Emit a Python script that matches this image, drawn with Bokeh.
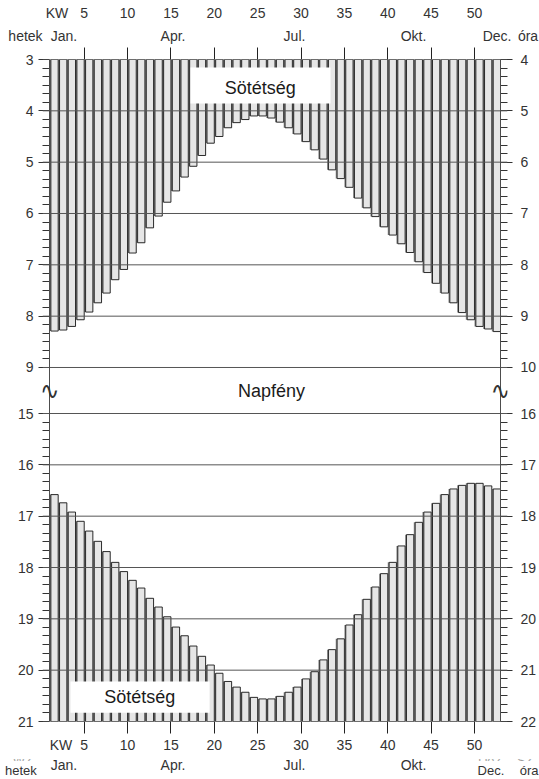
from bokeh.plotting import figure
from bokeh.layouts import column
from bokeh.core.properties import value
from bokeh.models import (Range1d, LinearAxis, FixedTicker, Span, BoxAnnotation,
                          Label, ColumnDataSource)
from bokeh.transform import dodge
from bokeh.embed import file_html
from bokeh.resources import INLINE

# ---------------- data ----------------
weeks = list(range(1, 53))
sunrise = [8.29, 8.27, 8.20, 8.07, 7.92, 7.74, 7.55, 7.29, 7.09, 6.77,
           6.57, 6.28, 6.05, 5.78, 5.56, 5.29, 5.08, 4.87, 4.63, 4.50,
           4.33, 4.23, 4.17, 4.10, 4.10, 4.14, 4.22, 4.33, 4.45, 4.60,
           4.76, 4.94, 5.15, 5.32, 5.49, 5.70, 5.89, 6.06, 6.26, 6.42,
           6.59, 6.76, 6.94, 7.15, 7.36, 7.55, 7.74, 7.93, 8.07, 8.20,
           8.25, 8.30]
sunset = [16.58, 16.74, 16.92, 17.10, 17.29, 17.49, 17.69, 17.90, 18.08, 18.25,
          18.40, 18.60, 18.77, 18.96, 19.16, 19.33, 19.53, 19.73, 19.90, 20.06,
          20.22, 20.33, 20.43, 20.53, 20.56, 20.56, 20.51, 20.43, 20.33, 20.17,
          20.03, 19.80, 19.60, 19.39, 19.12, 18.92, 18.62, 18.38, 18.12, 17.90,
          17.58, 17.36, 17.12, 16.92, 16.75, 16.58, 16.47, 16.40, 16.36, 16.36,
          16.41, 16.47]
week_ticks = [5, 10, 15, 20, 25, 30, 35, 40, 45, 50]
top_hours = [3, 4, 5, 6, 7, 8, 9]
bot_hours = [15, 16, 17, 18, 19, 20, 21]
month_names = ["Jan.", "Apr.", "Jul.", "Okt."]
month_pos = [2.66, 15.24, 29.25, 42.97]
kw_top, kw_bot = 1.86, 2.33
hetek_top, hetek_bot = -1.77, -2.3
ora_top, ora_bot = 56.17, 56.3
dec_top, dec_bot = 52.6, 51.9
# partly hidden original (German) labels under the translated ones
frag_text = ["WZ", "Dez", "SZ"]
frag_pos = [-2.06, 51.73, 55.83]

# ---------------- layout ----------------
W = 539
PL, PR = 49, 500            # canvas x of the left / right hour axes
WS = (PR - PL) / 52         # px per week
TIN = 7                     # inward tick length (frame edge -> axis line)
HH, HF = 44, 45             # header / footer heights
MT, MB = 15, 13
HFR = 662                   # main frame height
MH = MT + HFR + MB
GAP = 46 / 51.33
U = 12 + GAP
FONT = "Liberation Sans"
TXT = "#333333"
GRID = "#555555"


def bare(fig):
    fig.outline_line_color = None
    fig.title.visible = False
    for g in fig.grid:
        g.visible = False


def lab_axis(ax, size="14px", standoff=0):
    ax.axis_line_color = None
    ax.major_tick_in = 0
    ax.major_tick_out = 0
    ax.major_tick_line_color = None
    ax.minor_tick_line_color = None
    ax.major_label_text_font = FONT
    ax.major_label_text_font_size = size
    ax.major_label_text_color = TXT
    ax.major_label_standoff = standoff


# ---------------- main chart ----------------
p = figure(width=W, height=MH, x_range=Range1d(1 - TIN / WS, 53 + TIN / WS),
           y_range=Range1d(3 + U, 3), x_axis_location=None, y_axis_location=None,
           output_backend="svg", toolbar_location=None, frame_align=False,
           min_border_left=PL - TIN, min_border_right=W - PR - TIN,
           min_border_top=MT, min_border_bottom=MB)
p.extra_y_ranges = {"bot": Range1d(21, 21 - U)}
bare(p)

src = ColumnDataSource(dict(week=weeks, rise=sunrise, set=sunset))
p.vbar(x=dodge("week", 0.5, range=p.x_range), width=1.0, top=3, bottom="rise",
       fill_color="#8c8c8c", line_color=None, source=src)
p.vbar(x=dodge("week", 0.58, range=p.x_range), width=0.84, top=3, bottom="rise",
       fill_color="#e6e6e6", line_color="#1a1a1a", line_width=0.9, source=src)
p.vbar(x=dodge("week", 0.5, range=p.x_range), width=1.0, top="set", bottom=21,
       fill_color="#8c8c8c", line_color=None, source=src, y_range_name="bot")
p.vbar(x=dodge("week", 0.58, range=p.x_range), width=0.84, top="set", bottom=21,
       fill_color="#e6e6e6", line_color="#1a1a1a", line_width=0.9, source=src,
       y_range_name="bot")

for h in top_hours:
    p.add_layout(Span(location=h, dimension="width", line_color=GRID, line_width=1))
for h in bot_hours:
    p.add_layout(Span(location=h, dimension="width", line_color=GRID, line_width=1,
                      y_range_name="bot"))
for wx in (weeks[0], weeks[-1] + 1):
    p.add_layout(Span(location=wx, dimension="height", line_color="#4d4d4d", line_width=1))


def b2t(h):
    return (h - 18) + U


yticks = list(top_hours) + [b2t(h) for h in bot_hours]
yminor = [h + k / 6 for h in top_hours[:-1] for k in range(1, 6)] + \
         [b2t(h + k / 6) for h in bot_hours[:-1] for k in range(1, 6)]
ovL = {b2t(h): str(h) for h in bot_hours}
ovR = {h: str(h + 1) for h in top_hours}
ovR.update({b2t(h): str(h + 1) for h in bot_hours})


def style_y(ax, out, standoff):
    ax.axis_line_color = None
    ax.major_tick_in = TIN
    ax.major_tick_out = out
    ax.minor_tick_in = TIN
    ax.minor_tick_out = 0
    ax.major_tick_line_color = "#333333"
    ax.minor_tick_line_color = "#333333"
    ax.major_label_text_font = FONT
    ax.major_label_text_font_size = "14px"
    ax.major_label_text_color = TXT
    ax.major_label_standoff = standoff


axL = LinearAxis(ticker=FixedTicker(ticks=yticks, minor_ticks=yminor), major_label_overrides=ovL)
style_y(axL, 4, 5)
p.add_layout(axL, "left")
axR = LinearAxis(ticker=FixedTicker(ticks=yticks, minor_ticks=yminor), major_label_overrides=ovR)
style_y(axR, 5, 8)
p.add_layout(axR, "right")

for side in ("above", "below"):
    ax = LinearAxis(ticker=FixedTicker(ticks=week_ticks, minor_ticks=[]),
                    major_label_overrides={t: "" for t in week_ticks})
    ax.axis_line_color = None
    ax.major_tick_in = 0
    ax.major_tick_out = 12
    ax.major_tick_line_color = "#222222"
    ax.minor_tick_line_color = None
    ax.major_label_text_font_size = "1px"
    ax.major_label_standoff = 0
    p.add_layout(ax, side)

p.add_layout(BoxAnnotation(left=17.26, right=33.4, top=3.156, bottom=3.857,
                           fill_color="white", fill_alpha=1, line_color=None))
p.add_layout(BoxAnnotation(left=3.42, right=19.46, top=20.22, bottom=20.83,
                           fill_color="white", fill_alpha=1, line_color=None,
                           y_range_name="bot"))


def lab(text, x, y, size="18px", rng="default", font=FONT, color="#1a1a1a"):
    p.add_layout(Label(x=x, y=y, text=text, text_align="center", text_baseline="middle",
                       text_font=font, text_font_size=size, text_color=color,
                       y_range_name=rng))


lab("Sötétség", 25.3, 3.55)
lab("Sötétség", 11.4, 20.52, rng="bot")
lab("Napfény", 26.6, 9 + GAP / 2)
lab("\u223f", weeks[0], 9 + GAP / 2, size="24px", font="DejaVu Sans", color="#333333")
lab("\u223f", weeks[-1] + 1, 9 + GAP / 2, size="24px", font="DejaVu Sans", color="#333333")

# ---------------- header / footer (week numbers, months, units) ----------------
outer = Range1d(1 - PL / WS, 1 + (W - PL) / WS)


def strip(height, top=0):
    f = figure(width=W, height=height, x_range=outer, y_range=Range1d(0, 1),
               x_axis_location=None, y_axis_location=None,
               output_backend="svg", toolbar_location=None, frame_align=False,
               min_border_left=0, min_border_right=0, min_border_top=top,
               min_border_bottom=0)
    bare(f)
    return f


hdr = strip(HH)
a = LinearAxis(ticker=FixedTicker(ticks=[kw_top] + week_ticks, minor_ticks=[]),
               major_label_overrides={kw_top: "KW"})
lab_axis(a, standoff=4)
hdr.add_layout(a, "below")
top_row = [hetek_top] + month_pos + [dec_top, ora_top]
a = LinearAxis(ticker=FixedTicker(ticks=top_row, minor_ticks=[]),
               major_label_overrides=dict(zip(top_row, ["hetek"] + month_names + ["Dec.", "óra"])))
lab_axis(a, standoff=4)
hdr.add_layout(a, "below")

ftr = strip(HF, top=3)
# months row (adjacent above the thin frame), then week numbers further up
a = LinearAxis(ticker=FixedTicker(ticks=month_pos, minor_ticks=[]),
               major_label_overrides=dict(zip(month_pos, month_names)))
lab_axis(a, standoff=-13)
ftr.add_layout(a, "above")
a = LinearAxis(ticker=FixedTicker(ticks=[kw_bot] + week_ticks, minor_ticks=[]),
               major_label_overrides={kw_bot: "KW"})
lab_axis(a, standoff=1)
ftr.add_layout(a, "above")
# unit row below the thin frame
a = LinearAxis(ticker=FixedTicker(ticks=[hetek_bot, dec_bot, ora_bot], minor_ticks=[]),
               major_label_overrides={hetek_bot: "hetek", dec_bot: "Dec.", ora_bot: "óra"})
lab_axis(a, size="13px", standoff=2)
ftr.add_layout(a, "below")
# the thin frame only shows the tops of the covered original labels
fsrc = ColumnDataSource(dict(x=frag_pos, t=frag_text))
ftr.text(x="x", y=0.1, text="t", source=fsrc, text_align="center", text_baseline="middle",
         text_font=value(FONT), text_font_size="13px", text_color="#444444")

layout = column(hdr, p, ftr)
open("out.html", "w").write(file_html(layout, INLINE))
